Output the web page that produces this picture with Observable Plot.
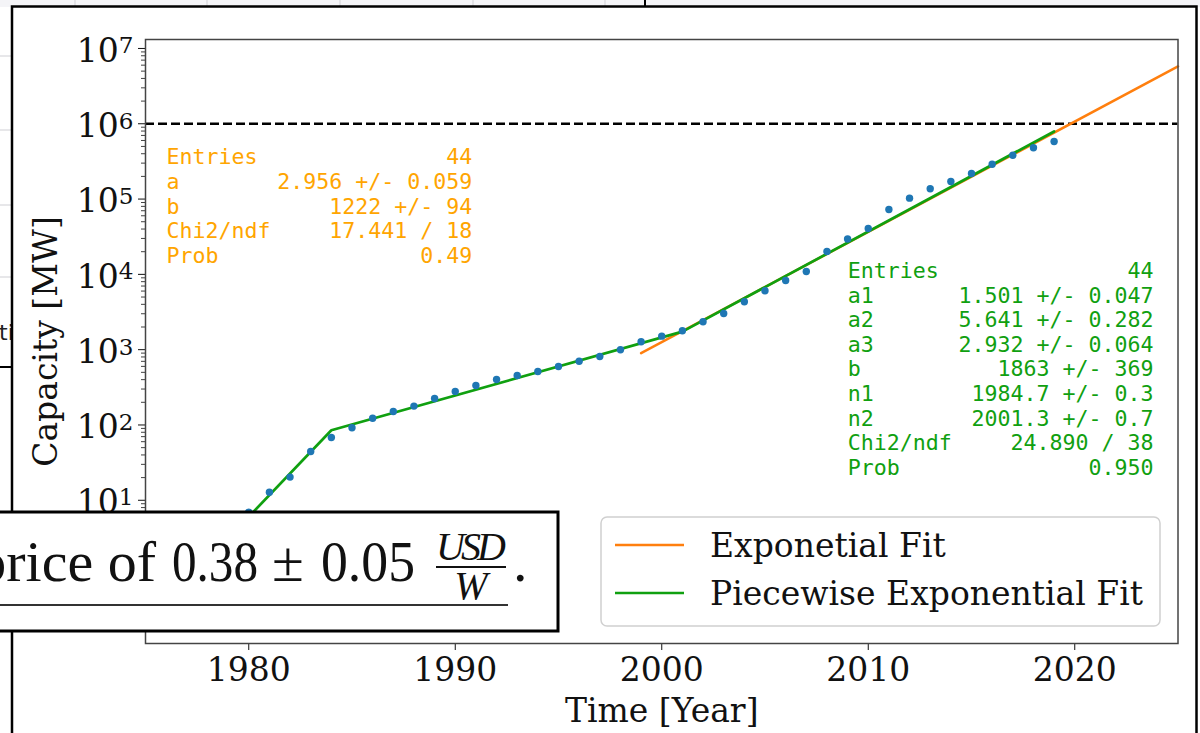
<!DOCTYPE html>
<html><head><meta charset="utf-8">
<script src="https://cdn.jsdelivr.net/npm/d3@7"></script>
<script src="https://cdn.jsdelivr.net/npm/@observablehq/plot@0.6"></script>
<style>
html,body{margin:0;padding:0;width:1200px;height:733px;overflow:hidden;background:#fff;}
#bg,#chart,#overlay{position:absolute;left:0;top:0;}
#overlay{pointer-events:none;}
</style></head>
<body>
<svg id="bg" width="1200" height="733">
  <rect x="0" y="0" width="1200" height="7" fill="#f4f4f7"/>
  <g stroke="#cfcfd4" stroke-width="1">
    <line x1="75" y1="0" x2="75" y2="7"/><line x1="207" y1="0" x2="207" y2="7"/>
    <line x1="340" y1="0" x2="340" y2="7"/><line x1="473" y1="0" x2="473" y2="7"/>
    <line x1="605" y1="0" x2="605" y2="7"/>
    <line x1="0" y1="56" x2="12" y2="56"/><line x1="0" y1="130" x2="12" y2="130"/>
    <line x1="0" y1="205" x2="12" y2="205"/><line x1="0" y1="277" x2="12" y2="277"/>
  </g>
  <line x1="645" y1="0" x2="645" y2="7" stroke="#000" stroke-width="2"/>
  <line x1="0" y1="367" x2="12" y2="367" stroke="#000" stroke-width="2"/>
  <text x="-1" y="340" font-family="DejaVu Sans" font-size="22" fill="#222">ti</text>
  <rect x="12" y="6.5" width="1184.5" height="800" fill="#fff" stroke="#000" stroke-width="2.5"/>
</svg>
<div id="chart"></div>
<svg id="overlay" width="1200" height="733">
  <g id="legend" font-family="DejaVu Serif" font-size="33" fill="#111">
    <rect x="601" y="517" width="559" height="109" rx="6" fill="#fff" fill-opacity="0.85" stroke="#d0d0d0" stroke-width="1.5"/>
    <line x1="615" x2="684" y1="545" y2="545" stroke="#ff7f0e" stroke-width="2.5"/>
    <text x="710" y="557">Exponetial Fit</text>
    <line x1="615" x2="684" y1="593" y2="593" stroke="#10a010" stroke-width="2.5"/>
    <text x="710" y="605">Piecewise Exponential Fit</text>
  </g>
  <g id="pricebox">
    <rect x="-10" y="512" width="568" height="119" fill="#fff" stroke="#000" stroke-width="3"/>
    <g font-family="Liberation Serif" fill="#111">
      <text x="156" y="581" font-size="58" text-anchor="end">price of</text>
      <text x="172" y="581" font-size="58" textLength="86" lengthAdjust="spacingAndGlyphs">0.38</text>
      <text x="288" y="581" font-size="58" text-anchor="middle">±</text>
      <text x="321" y="581" font-size="58" textLength="94" lengthAdjust="spacingAndGlyphs">0.05</text>
      <text x="471" y="560" font-size="40" font-style="italic" text-anchor="middle" textLength="70" lengthAdjust="spacing">USD</text>
      <line x1="436" x2="506" y1="567" y2="567" stroke="#111" stroke-width="2"/>
      <text x="471" y="599" font-size="40" font-style="italic" text-anchor="middle">W</text>
      <text x="513" y="581" font-size="58">.</text>
    </g>
    <line x1="0" x2="508" y1="605" y2="605" stroke="#333" stroke-width="2"/>
  </g>
</svg>
<script>
// ---- data ----
const years = [1976,1977,1978,1979,1980,1981,1982,1983,1984,1985,1986,1987,1988,1989,1990,
  1991,1992,1993,1994,1995,1996,1997,1998,1999,2000,2001,2002,2003,2004,2005,2006,2007,2008,
  2009,2010,2011,2012,2013,2014,2015,2016,2017,2018,2019];
const capacity = [0.5,0.9,1.7,3.6,6.95,12.8,20.3,44.5,68.2,91.8,123,151,178,225,279,
  335,402,454,513,597,703,812,997,1274,1511,1782,2346,3025,4326,6055,8295,10940,20150,
  29500,40700,72800,102800,137000,171300,218800,290600,382700,479800,582000];
const expFitYears = [1999, 2025];
const expFitValues = [897, 5770000];
const pieceFitYears = [1975, 1984, 2001, 2019];
const pieceFitValues = [0.222, 85.1, 1738, 790700];
const threshold = [1000000];
const xTicks = [1980, 1990, 2000, 2010, 2020];
const yTickExponents = [-1, 0, 1, 2, 3, 4, 5, 6, 7];
const expStatLabels = ["Entries", "a", "b", "Chi2/ndf", "Prob"];
const expStatValues = ["44", "2.956 +/- 0.059", "1222 +/- 94", "17.441 / 18", "0.49"];
const pieceStatLabels = ["Entries", "a1", "a2", "a3", "b", "n1", "n2", "Chi2/ndf", "Prob"];
const pieceStatValues = ["44", "1.501 +/- 0.047", "5.641 +/- 0.282", "2.932 +/- 0.064",
  "1863 +/- 369", "1984.7 +/- 0.3", "2001.3 +/- 0.7", "24.890 / 38", "0.950"];

// ---- tables ----
const points = years.map((year, i) => ({year, capacity: capacity[i]}));
const expFit = expFitYears.map((year, i) => ({year, capacity: expFitValues[i]}));
const pieceFit = pieceFitYears.map((year, i) => ({year, capacity: pieceFitValues[i]}));
const yDomain = [Math.pow(10, -0.902), Math.pow(10, 7.119)];
const inDomain = v => v >= yDomain[0] && v <= yDomain[1];
const yMajor = yTickExponents.map(e => Math.pow(10, e)).filter(inDomain);
const yMinor = [];
for (const e of yTickExponents) for (let k = 2; k < 10; k++) yMinor.push(k * Math.pow(10, e));
const yMinorIn = yMinor.filter(inDomain);

const ORANGE = "#ff7f0e", GREEN = "#10a010", BLUE = "#1f77b4";
const mono = "'DejaVu Sans Mono', monospace";

const chart = Plot.plot({
  width: 1200, height: 733,
  marginLeft: 145, marginRight: 22.5, marginTop: 39, marginBottom: 90,
  style: {fontFamily: "'DejaVu Serif', serif", fontSize: "33px", color: "#111", background: "transparent", overflow: "visible"},
  x: {domain: [1975, 2025]},
  y: {type: "log", domain: yDomain},
  marks: [
    Plot.axisY(yMinorIn, {tickSize: 4, tickFormat: () => "", label: null, strokeWidth: 0.8}),
    Plot.axisY(yMajor, {tickSize: 7, tickPadding: 5, strokeWidth: 1,
      tickFormat: d => "10^" + Math.round(Math.log10(d)),
      label: "Capacity [MW]", labelAnchor: "center", labelOffset: 112, labelArrow: "none"}),
    Plot.axisX(xTicks, {tickSize: 7, tickPadding: 7.5, strokeWidth: 1, tickFormat: d => String(d),
      label: "Time [Year]", labelAnchor: "center", labelOffset: 78, labelArrow: "none"}),
    Plot.ruleY(threshold, {stroke: "#000", strokeWidth: 2.5, strokeDasharray: "9,4"}),
    Plot.line(expFit, {x: "year", y: "capacity", stroke: ORANGE, strokeWidth: 2.5}),
    Plot.line(pieceFit, {x: "year", y: "capacity", stroke: GREEN, strokeWidth: 2.7}),
    Plot.dot(points, {x: "year", y: "capacity", r: 3.7, fill: BLUE}),
    Plot.text([expStatLabels.join("\n")], {text: d => d, frameAnchor: "top-left", dx: 21, dy: 107,
      textAnchor: "start", lineAnchor: "top", lineHeight: 1.145, fontFamily: mono, fontSize: 21.6, fill: "#ffa500"}),
    Plot.text([expStatValues.join("\n")], {text: d => d, frameAnchor: "top-left", dx: 326.7, dy: 107,
      textAnchor: "end", lineAnchor: "top", lineHeight: 1.145, fontFamily: mono, fontSize: 21.6, fill: "#ffa500"}),
    Plot.text([pieceStatLabels.join("\n")], {text: d => d, frameAnchor: "top-left", dx: 702.3, dy: 221.5,
      textAnchor: "start", lineAnchor: "top", lineHeight: 1.135, fontFamily: mono, fontSize: 21.6, fill: GREEN}),
    Plot.text([pieceStatValues.join("\n")], {text: d => d, frameAnchor: "top-left", dx: 1008, dy: 221.5,
      textAnchor: "end", lineAnchor: "top", lineHeight: 1.135, fontFamily: mono, fontSize: 21.6, fill: GREEN}),
    Plot.frame({stroke: "#444", strokeWidth: 1.5})
  ]
});
document.getElementById("chart").appendChild(chart);

// superscript exponents on the log tick labels
d3.select(chart).selectAll('g[aria-label="y-axis tick label"] text').each(function() {
  const t = this.textContent;
  if (!t.includes("^")) return;
  const [base, exp] = t.split("^");
  const sel = d3.select(this);
  sel.text(base).attr("y", "0.40em");
  sel.append("tspan").attr("dy", "-0.36em").attr("font-size", "0.7em").text(exp);
});
</script>
</body></html>
